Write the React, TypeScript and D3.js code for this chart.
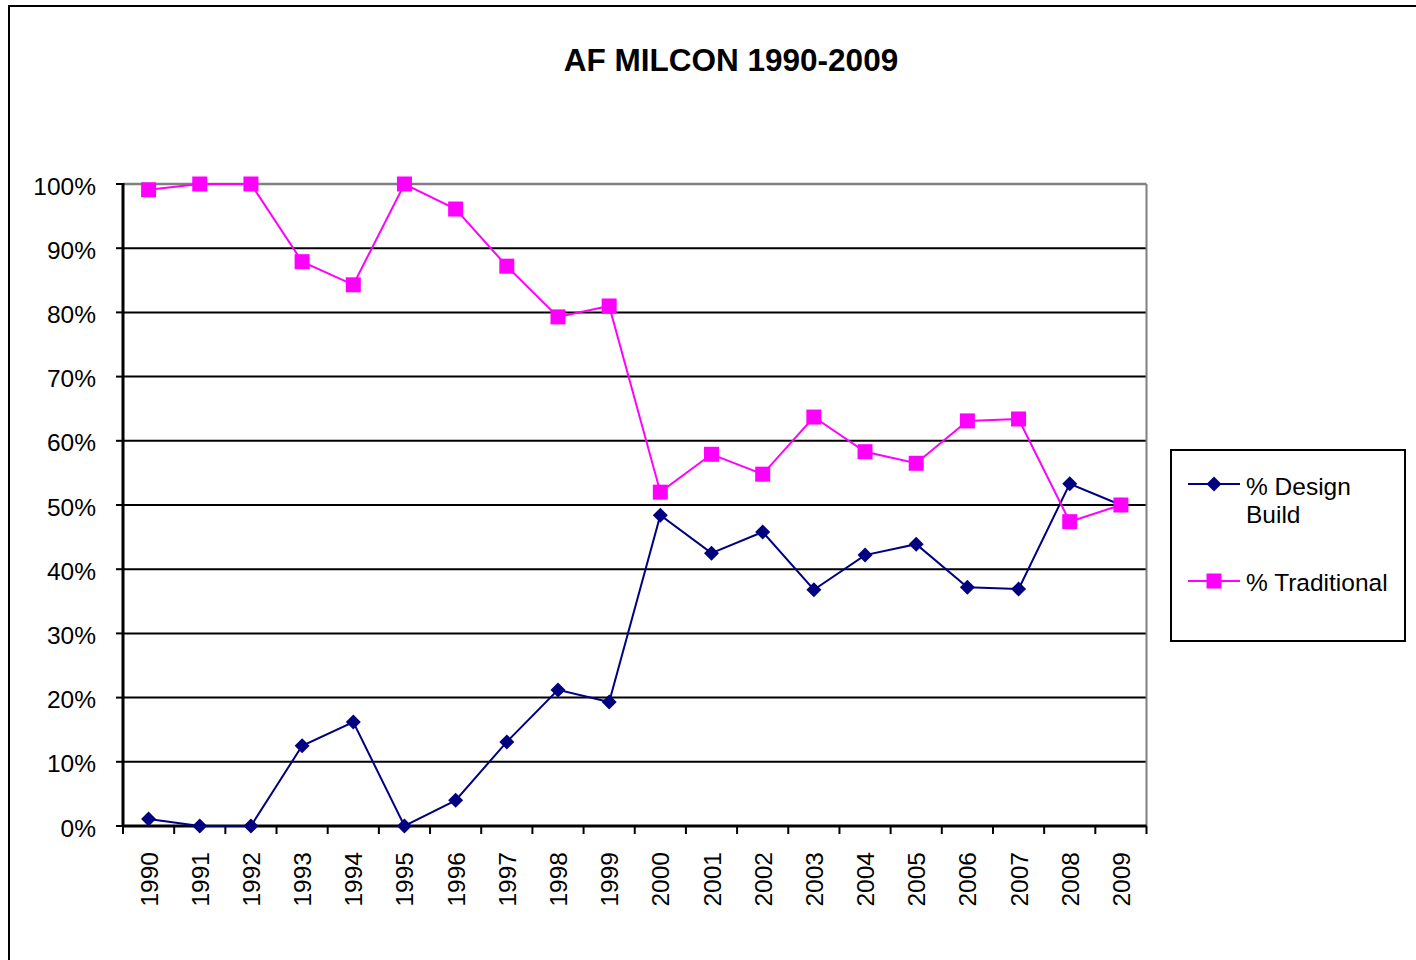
import React from "react";
import * as d3 from "d3";

const years = ["1990","1991","1992","1993","1994","1995","1996","1997","1998","1999","2000","2001","2002","2003","2004","2005","2006","2007","2008","2009"];
const designBuild = [1.1, 0, 0, 12.5, 16.2, 0, 4.0, 13.1, 21.2, 19.3, 48.4, 42.5, 45.8, 36.8, 42.2, 43.9, 37.2, 36.9, 53.3, 50.0];
const traditional = [99.1, 100, 100, 87.9, 84.3, 100, 96.1, 87.2, 79.3, 81.0, 52.0, 57.9, 54.8, 63.7, 58.3, 56.5, 63.1, 63.4, 47.4, 50.0];
const yTicks = [0, 10, 20, 30, 40, 50, 60, 70, 80, 90, 100];
const title = "AF MILCON 1990-2009";

const W = 1416, H = 960;
const L = 123, R = 1146.5, T = 184, B = 826;
const font = "'Liberation Sans', Arial, sans-serif";
const navy = "#000080";
const magenta = "#FF00FF";
const fs = 24.5;

export default function App() {
  const x = d3.scaleBand<string>().domain(years).range([L, R]).padding(0);
  const y = d3.scaleLinear().domain([0, 100]).range([B, T]);
  const cx = (d: string) => (x(d) as number) + x.bandwidth() / 2;
  const line = d3.line<number>().x((_, i) => cx(years[i])).y((v) => y(v));
  const diamond = (px: number, py: number, r = 7.5) =>
    `M${px},${py - r}L${px + r},${py}L${px},${py + r}L${px - r},${py}Z`;
  const sq = 15;

  return (
    <svg width={W} height={H} style={{ position: "absolute", left: 0, top: 0 }}>
      <rect x={0} y={0} width={W} height={H} fill="#fff" />
      <rect x={9} y={6} width={W + 20} height={H + 20} fill="none" stroke="#000" strokeWidth={2} />
      <text x={731} y={71} textAnchor="middle" fontFamily={font} fontWeight="bold" fontSize={31.5}>
        {title}
      </text>
      {yTicks.map((t) => (
        <line key={t} x1={L} x2={R} y1={y(t)} y2={y(t)}
          stroke={t === 100 ? "#808080" : "#000"} strokeWidth={t === 100 ? 2.5 : 2} />
      ))}
      <line x1={R} x2={R} y1={T} y2={B} stroke="#808080" strokeWidth={2} />
      <line x1={L} x2={L} y1={T - 1} y2={B + 1} stroke="#000" strokeWidth={3} />
      {yTicks.map((t) => (
        <g key={"yt" + t}>
          <line x1={L - 7} x2={L} y1={y(t)} y2={y(t)} stroke="#000" strokeWidth={2} />
          <text x={96} y={y(t) + 10.5} textAnchor="end" fontFamily={font} fontSize={fs}>{t}%</text>
        </g>
      ))}
      <line x1={L} x2={R} y1={B} y2={B} stroke="#000" strokeWidth={3} />
      {[...years.map((d) => x(d) as number), R].map((px, i) => (
        <line key={"xt" + i} x1={px} x2={px} y1={B} y2={B + 8} stroke="#000" strokeWidth={2} />
      ))}
      {years.map((d) => (
        <text key={"xl" + d} transform={`translate(${cx(d) + 9},${852}) rotate(-90)`}
          textAnchor="end" fontFamily={font} fontSize={fs}>{d}</text>
      ))}
      <path d={line(designBuild) || ""} fill="none" stroke={navy} strokeWidth={2} />
      <path d={line(traditional) || ""} fill="none" stroke={magenta} strokeWidth={2} />
      {designBuild.map((v, i) => (
        <path key={"db" + i} d={diamond(cx(years[i]), y(v))} fill={navy} />
      ))}
      {traditional.map((v, i) => (
        <rect key={"tr" + i} x={cx(years[i]) - sq / 2} y={y(v) - sq / 2} width={sq} height={sq} fill={magenta} />
      ))}
      <rect x={1171} y={450} width={234} height={191} fill="#fff" stroke="#000" strokeWidth={2} />
      <line x1={1188} x2={1240} y1={484} y2={484} stroke={navy} strokeWidth={2} />
      <path d={diamond(1214, 484)} fill={navy} />
      <text x={1246} y={495} fontFamily={font} fontSize={fs}>% Design</text>
      <text x={1246} y={523} fontFamily={font} fontSize={fs}>Build</text>
      <line x1={1188} x2={1240} y1={581} y2={581} stroke={magenta} strokeWidth={2} />
      <rect x={1214 - sq / 2} y={581 - sq / 2} width={sq} height={sq} fill={magenta} />
      <text x={1246} y={591} fontFamily={font} fontSize={fs}>% Traditional</text>
    </svg>
  );
}
